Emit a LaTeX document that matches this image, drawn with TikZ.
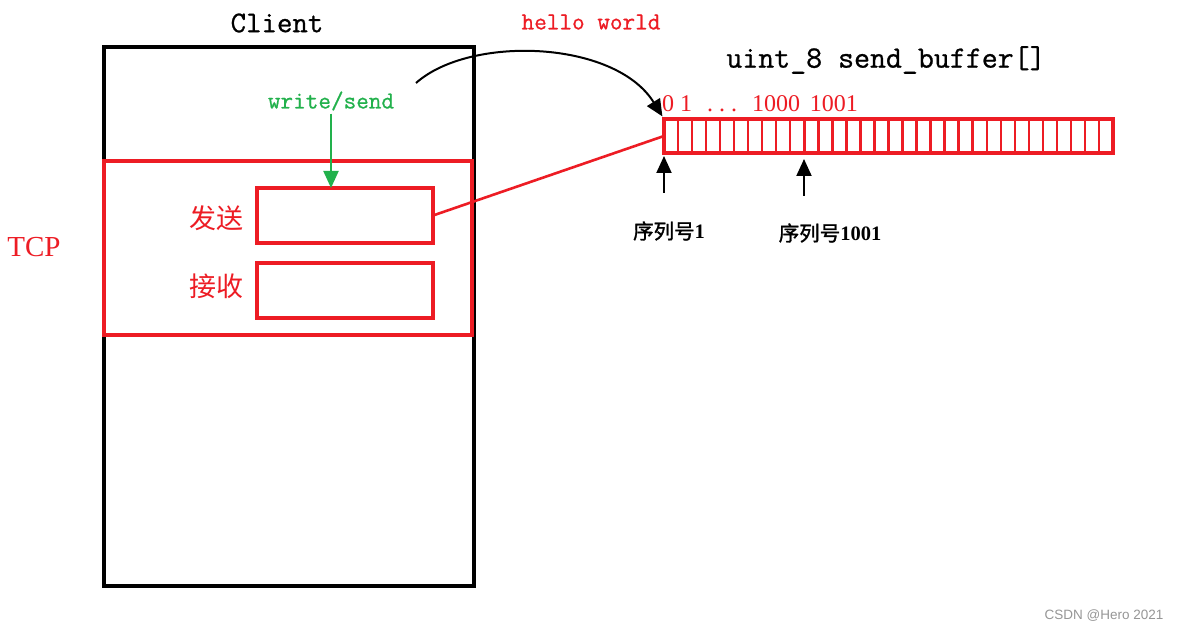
\documentclass[tikz,border=0pt]{standalone}
\usepackage{fontspec}
\setmainfont{Liberation Serif}
\setsansfont{Liberation Sans}
\newfontfamily\cjk{Noto Sans CJK SC}
\newfontfamily\cjkb[FakeBold=1.5]{Noto Sans CJK SC}
\newfontfamily\monob[FakeBold=0.8]{Latin Modern Mono}
\usetikzlibrary{arrows.meta}
\definecolor{pred}{RGB}{237,28,36}
\definecolor{pgreen}{RGB}{34,177,76}
\definecolor{wmgray}{RGB}{150,150,150}
\begin{document}
\begin{tikzpicture}[x=1pt,y=-1pt,
  box/.style={draw, rectangle, inner sep=0pt, outer sep=0pt, line width=3.2pt},
  redbox/.style={box, draw=pred},
  lbl/.style={inner sep=0pt, outer sep=0pt},
  tip/.style={-{Triangle[length=17pt,width=15pt]}, line width=2pt},
  cell/.style={draw=pred, line width=2.4pt}
]
\fill[white] (0,0) rectangle (1183,631);
\path[use as bounding box] (0,0) rectangle (1183,631);

% client box
\node[box, minimum width=370pt, minimum height=539pt] (client) at (289,316.5) {};
\node[lbl, font=\monob\fontsize{30}{30}\selectfont] (clientlbl) at (277,23) {Client};

% TCP box
\node[redbox, minimum width=368pt, minimum height=174pt] (tcp) at (288,248) {};
\node[lbl, text=pred, font=\fontsize{29}{29}\selectfont] (tcplbl) at (34,247) {TCP};

% send / receive
\node[redbox, minimum width=176pt, minimum height=55pt] (send) at (345,215.5) {};
\node[redbox, minimum width=176pt, minimum height=55pt] (recv) at (345,290.5) {};
\node[lbl, text=pred, font=\cjk\fontsize{27}{27}\selectfont] (sendlbl) at (216,218) {发送};
\node[lbl, text=pred, font=\cjk\fontsize{27}{27}\selectfont] (recvlbl) at (216,286) {接收};

% write/send
\node[lbl, text=pgreen, font=\monob\fontsize{24.5}{24.5}\selectfont] (ws) at (331,101) {write/send};
\draw[tip, draw=pgreen] (ws.south) ++(0,3) -- (send.north -| ws.south);

% hello world
\node[lbl, text=pred, font=\monob\fontsize{24.5}{24.5}\selectfont] (hello) at (591,22) {hello world};

% buffer
\node[lbl, font=\monob\fontsize{31}{31}\selectfont] (buftitle) at (886,60) {uint\_8 send\_buffer[]};
\node[redbox, minimum width=449pt, minimum height=34pt] (buf) at (888.5,136) {};
\foreach \i in {1,...,31}{
  \draw[cell] ([xshift=\i*14.03pt]buf.north west) -- ([xshift=\i*14.03pt]buf.south west);
}
\draw[cell, line width=3.2pt] ([xshift=16*14.03pt]buf.north west) -- ([xshift=16*14.03pt]buf.south west);
\node[lbl, anchor=west, text=pred, font=\fontsize{24}{24}\selectfont] (nums) at (662,104)
  {0 1\hspace{15pt}.\hspace{6pt}.\hspace{6pt}.\hspace{15pt}1000\hspace{4pt} 1001};

% red link
\draw[draw=pred, line width=2.6pt] (send.east) -- (buf.west);

% curved arrow
\coordinate (cstart) at (416,83);
\draw[tip, shorten >=3pt] (cstart) .. controls (470,35) and (615,40) .. (buf.north west);

% sequence arrows
\node[lbl, font=\fontsize{20.5}{20.5}\selectfont] (seq1) at (669,231) {{\cjkb 序列号}\textbf{1}};
\node[lbl, font=\fontsize{20.5}{20.5}\selectfont] (seq2) at (830,233) {{\cjkb 序列号}\textbf{1001}};
\coordinate (a1) at (664,193);
\coordinate (a2) at (804,196);
\draw[tip, shorten >=3pt] (a1) -- (a1 |- buf.south);
\draw[tip, shorten >=6pt] (a2) -- (a2 |- buf.south);

% watermark
\node[lbl, text=wmgray, font=\sffamily\fontsize{13.5}{13.5}\selectfont] (wm) at (1104,616) {CSDN @Hero 2021};
\end{tikzpicture}
\end{document}
